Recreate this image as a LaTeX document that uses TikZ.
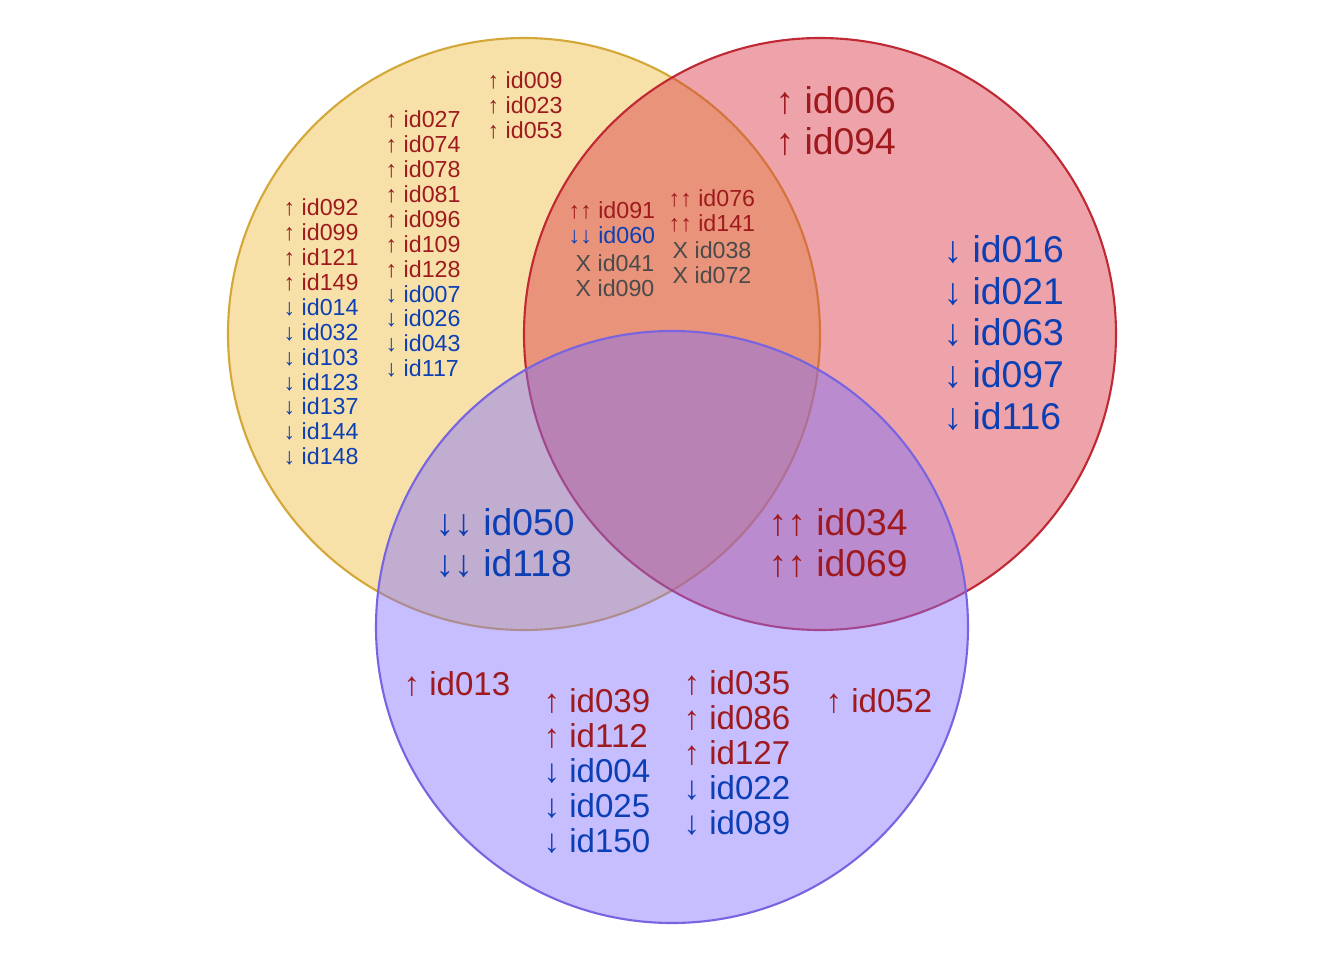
\documentclass[tikz,border=0pt]{standalone}
\usepackage{fontspec}
\setmainfont{Liberation Sans}
\definecolor{upred}{HTML}{9E1A1E}
\definecolor{downblue}{HTML}{0C3FB4}
\definecolor{xgray}{HTML}{4A4A4A}
\definecolor{yline}{HTML}{D4A838}
\definecolor{yfill}{HTML}{EEBC40}
\definecolor{rline}{HTML}{C02834}
\definecolor{rfill}{HTML}{D63440}
\definecolor{bline}{HTML}{7864E0}
\definecolor{bfill}{HTML}{806EFF}
\newcommand{\U}[1]{\textcolor{upred}{↑ #1}}
\newcommand{\D}[1]{\textcolor{downblue}{↓ #1}}
\newcommand{\UU}[1]{\textcolor{upred}{↑↑ #1}}
\newcommand{\DD}[1]{\textcolor{downblue}{↓↓ #1}}
\newcommand{\X}[1]{\textcolor{xgray}{X #1}}
\tikzset{
  small/.style={anchor=west,inner sep=0pt,align=left,font=\fontsize{6.6}{7.1}\selectfont},
  mid/.style={anchor=west,inner sep=0pt,align=left,font=\fontsize{9.4}{10}\selectfont},
  big/.style={anchor=west,inner sep=0pt,align=left,font=\fontsize{10.6}{11.9}\selectfont},
  set/.style={line width=0.6pt,fill opacity=0.45}
}
\begin{document}
\begin{tikzpicture}[x=0.01cm,y=-0.01cm]
\useasboundingbox (0,0) rectangle (1344,960);
% sets
\draw[set,draw=yline,fill=yfill] (524,334) circle (296);
\draw[set,draw=rline,fill=rfill] (820,334) circle (296);
\draw[set,draw=bline,fill=bfill] (672,627) circle (296);
% yellow only
\node[small] (ya) at (283,332) {\U{id092}\\\U{id099}\\\U{id121}\\\U{id149}\\\D{id014}\\\D{id032}\\\D{id103}\\\D{id123}\\\D{id137}\\\D{id144}\\\D{id148}};
\node[small] (yb) at (385,244) {\U{id027}\\\U{id074}\\\U{id078}\\\U{id081}\\\U{id096}\\\U{id109}\\\U{id128}\\\D{id007}\\\D{id026}\\\D{id043}\\\D{id117}};
\node[small] (yc) at (487,105) {\U{id009}\\\U{id023}\\\U{id053}};
% yellow and red
\node[small] (yra) at (568,223) {\UU{id091}\\\DD{id060}};
\node[small] (yrb) at (575,276) {\X{id041}\\\X{id090}};
\node[small] (yrc) at (668,211) {\UU{id076}\\\UU{id141}};
\node[small] (yrd) at (672,263) {\X{id038}\\\X{id072}};
% red only
\node[big] (ra) at (775,121) {\U{id006}\\\U{id094}};
\node[big] (rb) at (943,333) {\D{id016}\\\D{id021}\\\D{id063}\\\D{id097}\\\D{id116}};
% pairs with blue
\node[big] (ybl) at (435,543) {\DD{id050}\\\DD{id118}};
\node[big] (rbl) at (768,543) {\UU{id034}\\\UU{id069}};
% blue only
\node[mid] (ba) at (403,684) {\U{id013}};
\node[mid] (bb) at (543,771) {\U{id039}\\\U{id112}\\\D{id004}\\\D{id025}\\\D{id150}};
\node[mid] (bc) at (683,753) {\U{id035}\\\U{id086}\\\U{id127}\\\D{id022}\\\D{id089}};
\node[mid] (bd) at (825,701) {\U{id052}};
\end{tikzpicture}
\end{document}
